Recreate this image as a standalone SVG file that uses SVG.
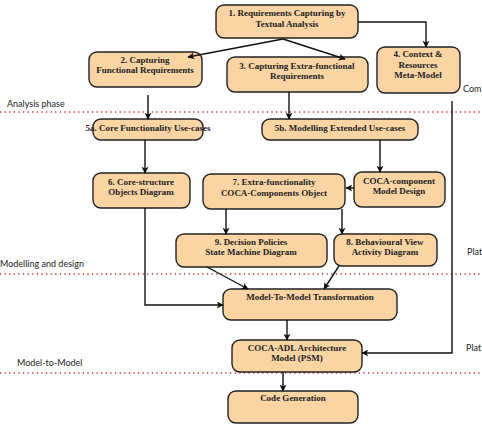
<svg xmlns="http://www.w3.org/2000/svg" width="482" height="430" viewBox="0 0 482 430">
<style>
.box{fill:#FAD4A3;stroke:#222;stroke-width:1.4}
.t{font-family:"Liberation Serif","Times New Roman",serif;font-weight:bold;font-size:9px;fill:#222;text-anchor:middle}
.ph{font-family:Lato,"Open Sans",sans-serif;font-size:9px;fill:#222}
.dot{stroke:#d62020;stroke-width:1.3;stroke-dasharray:1.2 3.4;fill:none}
.c{stroke:#111;stroke-width:1.4;fill:none;marker-end:url(#ah)}
</style>
<defs>
<marker id="ah" viewBox="0 0 10 10" refX="9" refY="5" markerWidth="7" markerHeight="7" markerUnits="userSpaceOnUse" orient="auto">
<path d="M0,0 L10,5 L0,10 L2.5,5 z" fill="#111"/>
</marker>
</defs>
<rect width="482" height="430" fill="#fff"/>
<g id="phases">
<line class="dot" x1="0" y1="112" x2="482" y2="112"/>
<line class="dot" x1="0" y1="274" x2="482" y2="274"/>
<line class="dot" x1="0" y1="373" x2="482" y2="373"/>
<text class="ph" x="7" y="107">Analysis phase</text>
<text class="ph" x="463" y="92">Com</text>
<text class="ph" x="0" y="267">Modelling and design</text>
<text class="ph" x="467" y="255">Plat</text>
<text class="ph" x="17" y="366">Model-to-Model</text>
<text class="ph" x="466" y="351">Plat</text>
</g>
<g id="n1"><rect class="box" x="216" y="5" width="142" height="33" rx="8"/>
<text class="t" x="287" y="16">1. Requirements Capturing by</text><text class="t" x="287" y="27">Textual Analysis</text></g>
<g id="n2"><rect class="box" x="89" y="52" width="113" height="35" rx="8"/>
<text class="t" x="145" y="63">2. Capturing</text><text class="t" x="145" y="73">Functional Requirements</text></g>
<g id="n3"><rect class="box" x="227" y="57" width="141" height="35" rx="8"/>
<text class="t" x="297" y="69">3. Capturing Extra-functional</text><text class="t" x="297" y="79">Requirements</text></g>
<g id="n4"><rect class="box" x="377" y="47" width="83" height="46" rx="8"/>
<text class="t" x="418" y="57">4. Context &amp;</text><text class="t" x="418" y="68">Resources</text><text class="t" x="418" y="78">Meta-Model</text></g>
<g id="n5a"><rect class="box" x="93" y="119" width="110" height="21" rx="8"/>
<text class="t" x="148" y="131">5a. Core Functionality Use-cases</text></g>
<g id="n5b"><rect class="box" x="262" y="119" width="156" height="21" rx="8"/>
<text class="t" x="340" y="131">5b. Modelling Extended Use-cases</text></g>
<g id="n6"><rect class="box" x="93" y="173" width="97" height="35" rx="8"/>
<text class="t" x="141" y="185">6. Core-structure</text><text class="t" x="141" y="195">Objects Diagram</text></g>
<g id="n7"><rect class="box" x="203" y="174" width="142" height="35" rx="8"/>
<text class="t" x="274" y="185">7. Extra-functionality</text><text class="t" x="274" y="196">COCA-Components Object</text></g>
<g id="ncoca"><rect class="box" x="354" y="172" width="91" height="35" rx="8"/>
<text class="t" x="399" y="184">COCA-component</text><text class="t" x="399" y="194">Model Design</text></g>
<g id="n9"><rect class="box" x="176" y="234" width="151" height="33" rx="8"/>
<text class="t" x="251" y="245">9. Decision Policies</text><text class="t" x="251" y="255">State Machine Diagram</text></g>
<g id="n8"><rect class="box" x="334" y="234" width="103" height="32" rx="8"/>
<text class="t" x="385" y="245">8. Behavioural View</text><text class="t" x="385" y="255">Activity Diagram</text></g>
<g id="nm2m"><rect class="box" x="223" y="289" width="174" height="31" rx="8"/>
<text class="t" x="310" y="300">Model-To-Model Transformation</text></g>
<g id="nadl"><rect class="box" x="232" y="340" width="130" height="32" rx="8"/>
<text class="t" x="297" y="351">COCA-ADL Architecture</text><text class="t" x="297" y="361">Model (PSM)</text></g>
<g id="ncode"><rect class="box" x="228" y="391" width="130" height="32" rx="8"/>
<text class="t" x="293" y="401">Code Generation</text></g>
<g id="connectors">
<line class="c" x1="283" y1="39" x2="188" y2="57"/>
<line class="c" x1="283" y1="39" x2="345" y2="59"/>
<polyline class="c" points="358,22 426,22 426,47"/>
<line class="c" x1="148" y1="95" x2="148" y2="119"/>
<line class="c" x1="289" y1="92" x2="289" y2="119"/>
<line class="c" x1="380" y1="140" x2="380" y2="172"/>
<line class="c" x1="145" y1="140" x2="145" y2="173"/>
<line class="c" x1="354" y1="188" x2="346" y2="188"/>
<line class="c" x1="226" y1="209" x2="226" y2="234"/>
<line class="c" x1="342" y1="209" x2="342" y2="234"/>
<polyline class="c" points="145,208 145,305 223,305"/>
<line class="c" x1="207" y1="267" x2="248" y2="289"/>
<line class="c" x1="339" y1="266" x2="324" y2="289"/>
<line class="c" x1="287" y1="320" x2="287" y2="340"/>
<line class="c" x1="283" y1="372" x2="283" y2="391"/>
<polyline class="c" points="452,101 452,353 362,353"/>
</g>
</svg>
